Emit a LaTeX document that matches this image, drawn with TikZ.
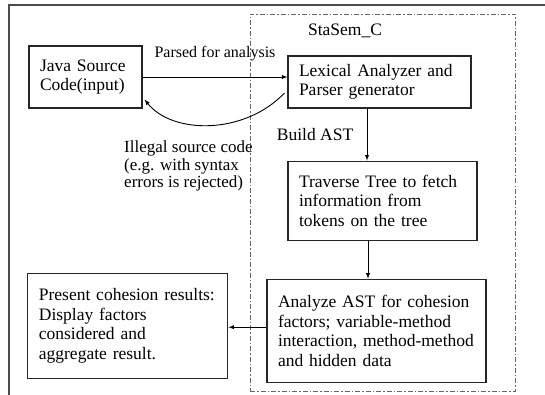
\documentclass[tikz,border=0pt]{standalone}
\usepackage{fontspec}
\setmainfont{Liberation Serif}
\usepackage{tikz}
\usetikzlibrary{positioning}
\newcommand{\stageFont}{\fontsize{17.5}{19.5}\selectfont}
\newcommand{\noteFont}{\fontsize{17}{17.5}\selectfont}
\newcommand{\flowFont}{\fontsize{16}{18}\selectfont}
\tikzset{Stage/.style={%
    shape=rectangle,%
    draw=black!85,%
    line width=1.1pt,%
    align=left,%
    inner xsep=11pt,%
    font=\stageFont,%
}}
\tikzset{Flow/.style={%
    -latex,%
    line width=0.9pt,%
}}
\tikzset{FlowLabel/.style={%
    font=\flowFont,%
}}
\tikzset{Note/.style={%
    font=\noteFont,%
    align=left,%
    inner sep=0pt,%
}}
\tikzset{Boundary/.style={%
    draw=black!60,%
    line width=0.9pt,%
    dash pattern=on 5pt off 2pt on 1.5pt off 2pt,%
}}

\begin{document}
\begin{tikzpicture}[x=1pt,y=-1pt]
    \useasboundingbox (0,0) rectangle (545,395);
    % page frame: only top and left rules
    \draw[black!70, line width=1.4pt] (545,5) -- (9,5) -- (9,395);
    % StaSem_C part
    \node[Boundary, minimum width=265pt, minimum height=377pt] (stasem) at (382.5,202.5) {};
    \node[font=\stageFont, anchor=base] (stasemTitle) at (345,36) {StaSem\_C};

    \node[Stage, text width=91pt, minimum height=62pt] (javaSrc) at (85.5,77) {Java Source\\Code(input)};
    \node[Stage, text width=161pt, minimum height=52pt] (lexer) at (379.5,82) {Lexical Analyzer and\\Parser generator};
    \node[Stage, text width=167pt, minimum height=79pt, below=52pt of lexer, xshift=3pt] (traverse) {Traverse Tree to fetch\\information from\\tokens on the tree};
    \node[Stage, text width=197pt, minimum height=103pt, below=38pt of traverse, xshift=-6pt] (analyze) {Analyze AST for cohesion\\factors; variable-method\\interaction, method-method\\and hidden data};
    \node[Stage, text width=178pt, minimum height=105pt, left=38pt of analyze, yshift=5pt] (present) {Present cohesion results:\\Display factors\\considered and\\aggregate result.};

    \path (javaSrc.east) edge[Flow] node[FlowLabel, above=12pt]{Parsed for analysis} (javaSrc.east -| lexer.west);
    \path ([xshift=-12.5pt]lexer.south) edge[Flow] node[FlowLabel, font=\stageFont, left=10pt]{Build AST} ([xshift=-12.5pt]lexer.south |- traverse.north);
    \path ([xshift=-14.5pt]traverse.south) edge[Flow] ([xshift=-14.5pt]traverse.south |- analyze.north);
    \path ([yshift=3.5pt]analyze.west) edge[Flow] ([yshift=3.5pt]analyze.west -| present.east);

    % rejected input goes back
    \draw[Flow] ([xshift=-3pt,yshift=-11pt]lexer.west) .. controls +(-40,42) and +(28,35) .. ([xshift=2pt,yshift=9pt]javaSrc.south east);
    \node[Note, anchor=west] (rejectNote) at (124,166) {Illegal source code\\(e.g. with syntax\\errors is rejected)};
\end{tikzpicture}
\end{document}
